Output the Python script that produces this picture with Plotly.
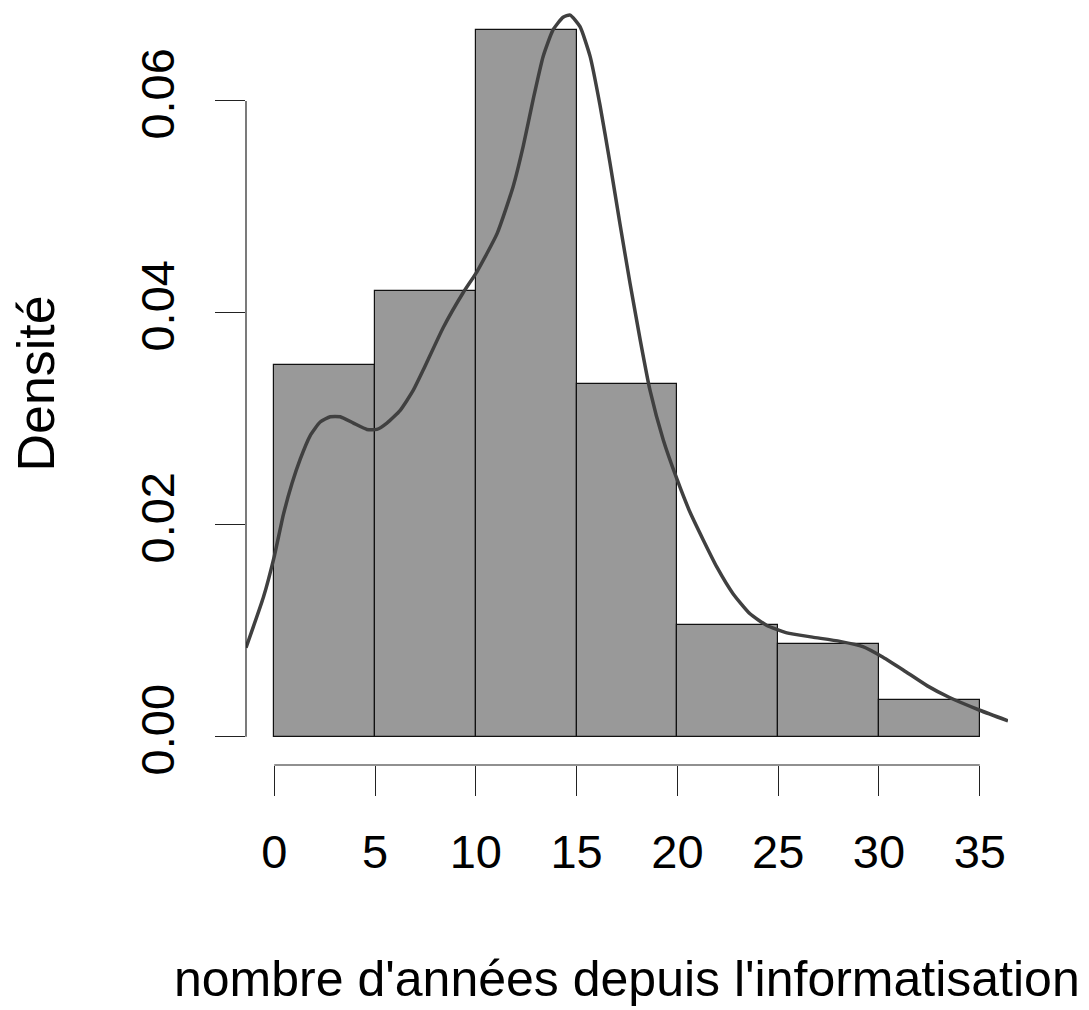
import plotly.graph_objects as go

# Histogram: 5-year classes, counts per class
breaks = [0, 5, 10, 15, 20, 25, 30, 35]
counts = [20, 24, 38, 19, 6, 5, 2]

# Kernel density estimate of the same sample (x in years, y in density)
dens_x = [-1.4, -0.53, 0.0, 0.46, 0.88, 1.29, 1.78, 2.28, 2.78, 3.27, 3.93,
          4.6, 5.09, 5.59, 6.25, 6.9, 7.39, 8.38, 9.37, 10.06, 11.06, 11.85,
          12.35, 12.84, 13.34, 13.83, 14.33, 14.68, 15.17, 15.67, 16.16,
          16.66, 17.15, 17.65, 18.15, 18.64, 19.3, 19.98, 20.6, 21.3, 21.96,
          22.76, 23.6, 24.44, 25.43, 26.7, 28.06, 29.2, 30.2, 31.2, 32.4,
          33.5, 35.0, 36.4]
dens_y = [0.0084, 0.0132, 0.0170, 0.0210, 0.0239, 0.0262, 0.0284, 0.0297,
          0.0302, 0.0302, 0.0296, 0.0290, 0.0290, 0.0296, 0.0308, 0.0327,
          0.0346, 0.0386, 0.0419, 0.0439, 0.0475, 0.0519, 0.0557, 0.0601,
          0.0642, 0.0667, 0.0679, 0.0681, 0.0670, 0.0642, 0.0596, 0.0541,
          0.0484, 0.0428, 0.0375, 0.0327, 0.0280, 0.0243, 0.0213, 0.0185,
          0.0160, 0.0135, 0.0116, 0.0105, 0.0098, 0.0094, 0.0090, 0.0085,
          0.0075, 0.0063, 0.0048, 0.0037, 0.0025, 0.0015]

x_ticks = [0, 5, 10, 15, 20, 25, 30, 35]
y_ticks = [0.00, 0.02, 0.04, 0.06]
y_tick_text = ["0.00", "0.02", "0.04", "0.06"]

x_title = "nombre d'années depuis l'informatisation"
y_title = "Densité"

n = sum(counts)
widths = [b1 - b0 for b0, b1 in zip(breaks[:-1], breaks[1:])]
mids = [(b0 + b1) / 2 for b0, b1 in zip(breaks[:-1], breaks[1:])]
density = [c / (n * w) for c, w in zip(counts, widths)]

FONT = "Liberation Sans, Arial, sans-serif"
TICK_FS = 47

fig = go.Figure()
fig.add_trace(go.Bar(
    x=mids, y=density, width=widths,
    marker=dict(color="#999999", line=dict(color="#111111", width=1.2)),
    hoverinfo="skip",
))
fig.add_trace(go.Scatter(
    x=dens_x, y=dens_y, mode="lines",
    line=dict(color="#404040", width=3.5, shape="spline", smoothing=0.5),
    hoverinfo="skip",
))

# R-like range: data range extended by 4% on each side
xlo, xhi = breaks[0], breaks[-1]
xpad = 0.04 * (xhi - xlo)
ymax = max(density)
ypad = 0.04 * ymax

fig.update_layout(
    width=1089, height=1010,
    margin=dict(l=246, r=81, t=2, b=245),
    paper_bgcolor="white", plot_bgcolor="white",
    showlegend=False,
    bargap=0,
    font=dict(family=FONT, size=TICK_FS, color="black"),
    xaxis=dict(
        range=[xlo - xpad, xhi + xpad],
        showgrid=False, zeroline=False, showline=False,
        tickmode="array", tickvals=x_ticks, ticktext=[str(t) for t in x_ticks],
        ticks="outside", ticklen=30, tickwidth=1.2, tickcolor="#222222",
        ticklabelstandoff=16,
        tickfont=dict(family=FONT, size=TICK_FS, color="black"),
    ),
    yaxis=dict(
        range=[-ypad, ymax + ypad],
        showgrid=False, zeroline=False, showline=False,
        tickmode="array", tickvals=y_ticks, ticktext=y_tick_text,
        tickangle=-90,
        ticks="outside", ticklen=30, tickwidth=1.2, tickcolor="#222222",
        ticklabelstandoff=22,
        tickfont=dict(family=FONT, size=TICK_FS, color="black"),
    ),
    shapes=[
        dict(type="line", xref="x", yref="paper",
             x0=min(x_ticks), x1=max(x_ticks), y0=0, y1=0,
             line=dict(color="#222222", width=1.2)),
        dict(type="line", xref="paper", yref="y",
             x0=0, x1=0, y0=min(y_ticks), y1=max(y_ticks),
             line=dict(color="#222222", width=1.2)),
    ],
    annotations=[
        dict(text=x_title, xref="paper", yref="paper",
             x=0.5, y=-0.2805, xanchor="center", yanchor="middle",
             showarrow=False, font=dict(family=FONT, size=50, color="black")),
        dict(text=y_title, xref="paper", yref="paper",
             x=-0.2768, y=0.5, xanchor="center", yanchor="middle",
             textangle=-90,
             showarrow=False, font=dict(family=FONT, size=52, color="black")),
    ],
)

fig.write_html("out.html")
